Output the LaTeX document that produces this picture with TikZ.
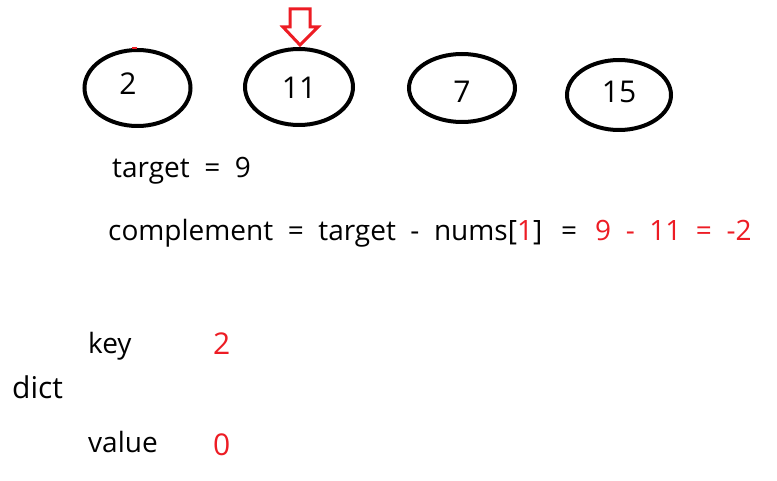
\documentclass[tikz,border=0pt]{standalone}
\usepackage{fontspec}
\setmainfont[WordSpace=2]{Open Sans}
\usetikzlibrary{shapes.geometric}
\definecolor{myred}{RGB}{237,28,36}
\begin{document}
\begin{tikzpicture}[x=1pt,y=-1pt,
  ell/.style={draw=black,line width=4pt,ellipse,inner sep=0pt},
  num/.style={font=\fontsize{30}{36}\selectfont,anchor=base,inner sep=0pt},
  txt/.style={font=\fontsize{28}{34}\selectfont,anchor=base west,inner sep=0pt},
  big/.style={font=\fontsize{30}{36}\selectfont,anchor=base west,inner sep=0pt},
  redtxt/.style={text=myred}]
\useasboundingbox (0,0) rectangle (777,481);
\fill[white] (0,0) rectangle (777,481);
% ellipses
\node[ell,minimum width=106pt,minimum height=76pt] (e1) at (137.5,88) {};
\node[ell,minimum width=108pt,minimum height=76pt] (e2) at (299,87) {};
\node[ell,minimum width=106pt,minimum height=68pt] (e3) at (462,88) {};
\node[ell,minimum width=104pt,minimum height=70pt] (e4) at (619,95) {};
\node[num] (n1) at (128,95) {2};
\node[num] (n2) at (299,99) {11};
\node[num] (n3) at (462,103) {7};
\node[num] (n4) at (619,103) {15};
% small red mark
\draw[myred,line width=2pt] (132,48.5) -- (137,48.5);
% hollow arrow
\draw[myred,line width=3pt,line join=miter]
  (290,9) -- (310,9) -- (310,27) -- (318,27) -- (300,45) -- (283,27) -- (290,27) -- cycle;
% text
\node[txt] (t1) at (112,178) {target = 9};
\node[txt] (t2) at (108,241) {complement = target - nums[{\color{myred}1}]\hspace{19pt}=\hspace{18pt}{\color{myred}9 - 11 = -2}};
\node[txt] (k) at (88,353) {key};
\node[big,redtxt] (kv) at (213,355) {2};
\node[big] (d) at (12,398) {dict};
\node[txt] (v) at (88,452) {value};
\node[big,redtxt] (vv) at (213,455) {0};
\end{tikzpicture}
\end{document}
